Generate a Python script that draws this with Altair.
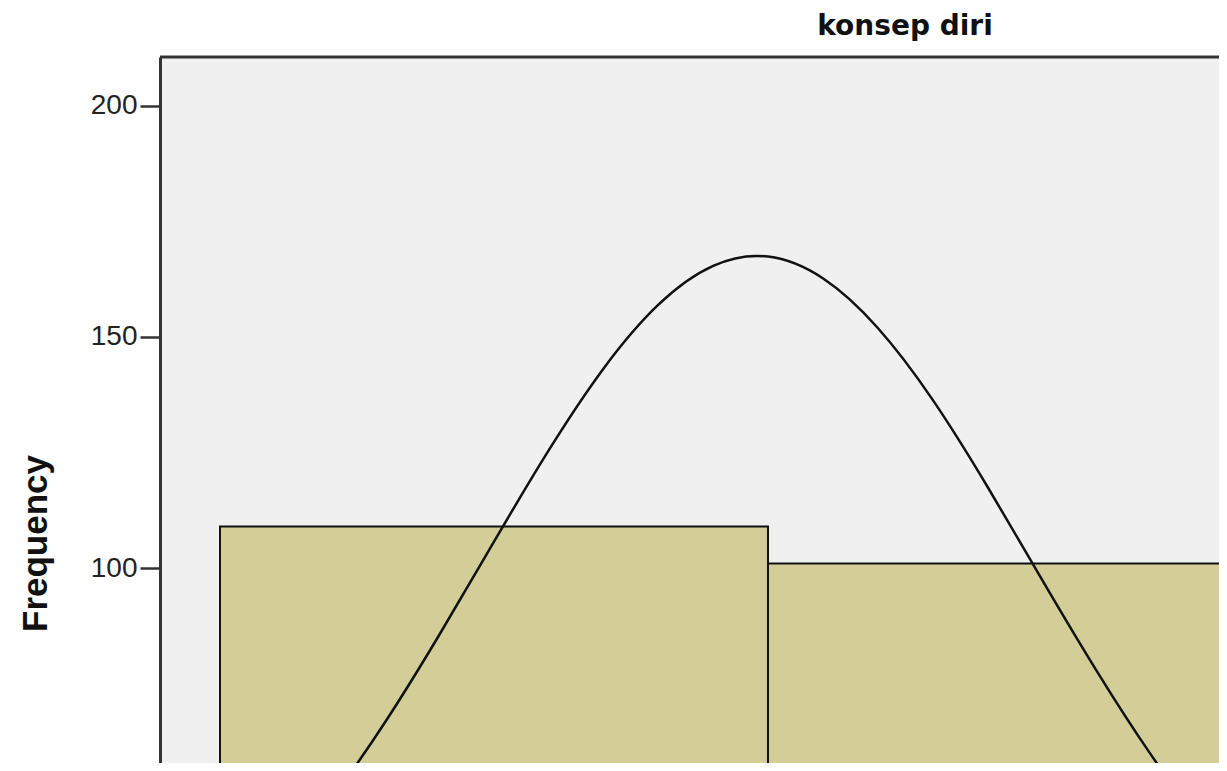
import altair as alt
import pandas as pd

# Histogram bins (konsep diri score) and frequencies
bin_start = [100, 110]
bin_end = [110, 120]
freq = [109, 101]

# Normal curve, values
curve_x = [101, 102, 103, 104, 105, 106, 107, 108, 109, 110,
           111, 112, 113, 114, 115, 116, 117, 118, 119]
curve_y = [35.6, 49.6, 66.4, 85.5, 105.7, 125.5, 143.2, 157.0, 165.4, 167.4,
           162.7, 152.0, 136.5, 117.7, 97.5, 77.7, 59.4, 43.6, 30.8]

TITLE = ["konsep diri"]
Y_TOP = 210.6
bars = pd.DataFrame({"start": bin_start, "end": bin_end, "freq": freq})
curve = pd.DataFrame({"x": curve_x, "y": curve_y})

xscale = alt.Scale(domain=[98.905, 118.23], nice=False, zero=False)
yscale = alt.Scale(domain=[57.8, Y_TOP], nice=False, zero=False)

bar_layer = alt.Chart(bars).mark_rect(
    fill="#D3CE97", stroke="#111111", strokeWidth=2, clip=True
).encode(
    x=alt.X("start:Q", scale=xscale, axis=None),
    x2="end:Q",
    y=alt.Y("freq:Q", scale=yscale,
            axis=alt.Axis(title="Frequency", values=[100, 150, 200])),
    y2=alt.datum(0),
)

line_layer = alt.Chart(curve).mark_line(
    color="#111111", strokeWidth=2.5, interpolate="natural", clip=True
).encode(
    x=alt.X("x:Q", scale=xscale, axis=None),
    y=alt.Y("y:Q", scale=yscale),
)

top_rule = alt.Chart(pd.DataFrame({"top": [Y_TOP]})).mark_rule(
    color="#333333", strokeWidth=3
).encode(y=alt.Y("top:Q", scale=yscale))

title_layer = alt.Chart(pd.DataFrame({"t": TITLE})).mark_text(
    font="DejaVu Sans", fontSize=28, fontWeight="bold", color="#111111",
    align="center", baseline="alphabetic"
).encode(text="t:N", x=alt.value(745), y=alt.value(-22))

chart = alt.layer(bar_layer, line_layer, top_rule, title_layer).properties(
    width=1059,
    height=706,
    autosize=alt.AutoSizeParams(type="none"),
    padding={"left": 152, "top": 49, "right": 0, "bottom": 0},
).configure_view(
    fill="#F0F0F0", stroke=None
).configure_axisY(
    domain=True, domainColor="#333333", domainWidth=3, grid=False,
    tickSize=20, tickWidth=2.5, tickColor="#333333",
    labelFont="Liberation Sans", labelFontSize=28, labelColor="#222222",
    labelPadding=3,
    titleFont="Liberation Sans", titleFontSize=35, titleFontWeight="bold",
    titleColor="#111111", titleAngle=270, titleX=-114, titleY=486,
    titleAlign="center", titleBaseline="alphabetic",
)

chart.save("out.html", embed_options={"renderer": "svg", "actions": False})
